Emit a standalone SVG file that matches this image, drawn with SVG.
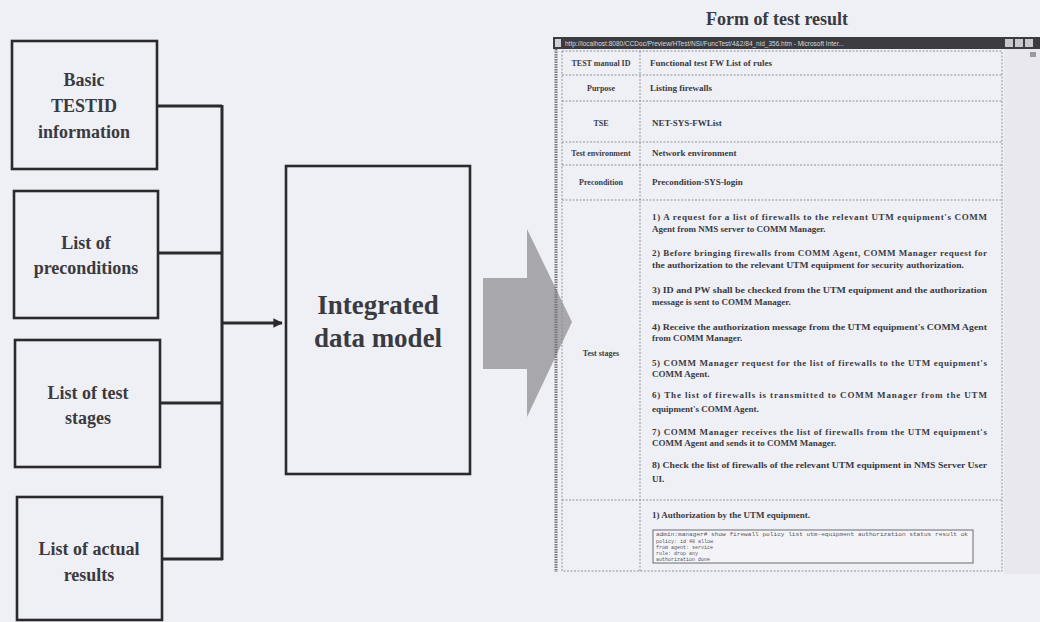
<svg xmlns="http://www.w3.org/2000/svg" width="1040" height="622" viewBox="0 0 1040 622">
  <defs>
    <style>
      .node { fill: none; stroke: #2a2a2e; stroke-width: 2.6; }
      .lbl { font-family: "Liberation Serif", "Times New Roman", serif; font-weight: bold; fill: #3a3a40; text-anchor: middle; }
      .wire { fill: none; stroke: #2a2a2e; stroke-width: 3; }
      .cell { stroke: #8a8a90; stroke-width: 0.9; stroke-dasharray: 2 1.5; fill: none; }
      .ft { font-family: "Liberation Serif", "Times New Roman", serif; font-size: 9px; fill: #3a3a42; font-weight: bold; }
      .fl { font-family: "Liberation Serif", "Times New Roman", serif; font-size: 8px; fill: #3c3c44; text-anchor: middle; font-weight: bold; }
      .tiny { font-family: "Liberation Mono", monospace; font-size: 5px; fill: #55555c; }
    </style>
    <marker id="head" viewBox="0 0 10 10" refX="9" refY="5" markerWidth="3.2" markerHeight="3.2" orient="auto" markerUnits="strokeWidth">
      <path d="M0,0 L10,5 L0,10 Z" fill="#2a2a2e"/>
    </marker>
  </defs>

  <rect width="1040" height="622" fill="#eff0f6"/>

  <!-- source nodes -->
  <g id="node-basic">
    <rect class="node" x="12" y="41" width="145" height="128"/>
    <text class="lbl" font-size="18" x="84" y="86">Basic</text>
    <text class="lbl" font-size="18" x="84" y="112">TESTID</text>
    <text class="lbl" font-size="18" x="84" y="138">information</text>
  </g>
  <g id="node-preconditions">
    <rect class="node" x="14" y="191" width="144" height="127"/>
    <text class="lbl" font-size="18" x="86" y="249">List of</text>
    <text class="lbl" font-size="18" x="86" y="274">preconditions</text>
  </g>
  <g id="node-stages">
    <rect class="node" x="15" y="340" width="145" height="127"/>
    <text class="lbl" font-size="18" x="88" y="399">List of test</text>
    <text class="lbl" font-size="18" x="88" y="424">stages</text>
  </g>
  <g id="node-results">
    <rect class="node" x="17" y="497" width="145" height="123"/>
    <text class="lbl" font-size="18" x="89" y="555">List of actual</text>
    <text class="lbl" font-size="18" x="89" y="581">results</text>
  </g>
  <g id="node-model">
    <rect class="node" x="286" y="166" width="184" height="308"/>
    <text class="lbl" font-size="27" x="378" y="314">Integrated</text>
    <text class="lbl" font-size="27" x="378" y="347">data model</text>
  </g>

  <!-- connectors -->
  <g id="connectors">
    <path class="wire" d="M157,106 H222 M158,253 H222 M160,403 H222 M162,559 H223 M222,105 V560"/>
    <path class="wire" stroke-width="4" d="M222,323 H282" marker-end="url(#head)"/>
    <path id="big-arrow" d="M483,278 H527 V229 L572,322 L527,417 V369 H483 Z" fill="#a7a7ac"/>
  </g>

  <!-- result form -->
  <g id="node-form">
    <text class="lbl" font-size="18" x="777" y="25">Form of test result</text>

    <!-- window frame -->
    <rect x="553" y="37" width="487" height="12" fill="#3b3b40"/>
    <rect x="555" y="39" width="6" height="8" fill="#d0d0d6"/>
    <text x="565" y="46" font-family="Liberation Sans, Arial, sans-serif" font-size="6.5" fill="#d8d8de">http://localhost:8080/CCDoc/Preview/HTest/NSI/FuncTest/4&amp;2/84_nid_356.htm - Microsoft Inter...</text>
    <rect x="1005" y="39" width="8" height="8" fill="#c8c8ce"/>
    <rect x="1015" y="39" width="8" height="8" fill="#c8c8ce"/>
    <rect x="1025" y="39" width="8" height="8" fill="#c8c8ce"/>
    <rect x="1004" y="49" width="36" height="525" fill="#e8e8ee"/>
    <rect x="1030" y="52" width="6" height="5" fill="#9a9aa0"/>
    <line x1="556" y1="49" x2="556" y2="572" stroke="#77777e" stroke-width="3" stroke-dasharray="1.5 1"/>

    <!-- table grid -->
    <rect class="cell" x="562" y="51" width="440" height="520"/>
    <path class="cell" d="M640,51 V571 M562,75 H1002 M562,101 H1002 M562,142 H1002 M562,165 H1002 M562,200 H1002 M562,500 H1002"/>

    <!-- label column -->
    <text class="fl" x="601" y="66">TEST manual ID</text>
    <text class="fl" x="601" y="91">Purpose</text>
    <text class="fl" x="601" y="126">TSE</text>
    <text class="fl" x="601" y="156">Test environment</text>
    <text class="fl" x="601" y="185">Precondition</text>
    <text class="fl" x="601" y="356">Test stages</text>

    <!-- value column -->
    <text class="ft" x="650" y="66">Functional test FW List of rules</text>
    <text class="ft" x="650" y="91">Listing firewalls</text>
    <text class="ft" x="652" y="126">NET-SYS-FWList</text>
    <text class="ft" x="652" y="156">Network environment</text>
    <text class="ft" x="652" y="185">Precondition-SYS-login</text>

    <text class="ft" x="652" y="220" textLength="335" lengthAdjust="spacing">1) A request for a list of firewalls to the relevant UTM equipment's COMM</text>
    <text class="ft" x="652" y="232">Agent from NMS server to COMM Manager.</text>
    <text class="ft" x="652" y="256" textLength="335" lengthAdjust="spacing">2) Before bringing firewalls from COMM Agent, COMM Manager request for</text>
    <text class="ft" x="652" y="268" textLength="312" lengthAdjust="spacingAndGlyphs">the authorization to the relevant UTM equipment for security authorization.</text>
    <text class="ft" x="652" y="293" textLength="335" lengthAdjust="spacingAndGlyphs">3) ID and PW shall be checked from the UTM equipment and the authorization</text>
    <text class="ft" x="652" y="305">message is sent to COMM Manager.</text>
    <text class="ft" x="652" y="330" textLength="335" lengthAdjust="spacingAndGlyphs">4) Receive the authorization message from the UTM equipment's COMM Agent</text>
    <text class="ft" x="652" y="341">from COMM Manager.</text>
    <text class="ft" x="652" y="366" textLength="335" lengthAdjust="spacing">5) COMM Manager request for the list of firewalls to the UTM equipment's</text>
    <text class="ft" x="652" y="377">COMM Agent.</text>
    <text class="ft" x="652" y="398" textLength="335" lengthAdjust="spacing">6) The list of firewalls is transmitted to COMM Manager from the UTM</text>
    <text class="ft" x="652" y="412">equipment's COMM Agent.</text>
    <text class="ft" x="652" y="435" textLength="335" lengthAdjust="spacing">7) COMM Manager receives the list of firewalls from the UTM equipment's</text>
    <text class="ft" x="652" y="446">COMM Agent and sends it to COMM Manager.</text>
    <text class="ft" x="652" y="468" textLength="335" lengthAdjust="spacingAndGlyphs">8) Check the list of firewalls of the relevant UTM equipment in NMS Server User</text>
    <text class="ft" x="652" y="482">UI.</text>

    <text class="ft" x="652" y="518">1) Authorization by the UTM equipment.</text>
    <rect x="653" y="530" width="320" height="33" fill="#f4f4f8" stroke="#6a6a70" stroke-width="1"/>
    <text class="tiny" x="656" y="536" textLength="312" lengthAdjust="spacingAndGlyphs">admin:manager# show firewall policy list utm-equipment authorization status result ok</text>
    <text class="tiny" x="656" y="543">policy: id 48 allow</text>
    <text class="tiny" x="656" y="549">from agent: service</text>
    <text class="tiny" x="656" y="555">rule: drop any</text>
    <text class="tiny" x="656" y="561">authorization done</text>
  </g>
</svg>
